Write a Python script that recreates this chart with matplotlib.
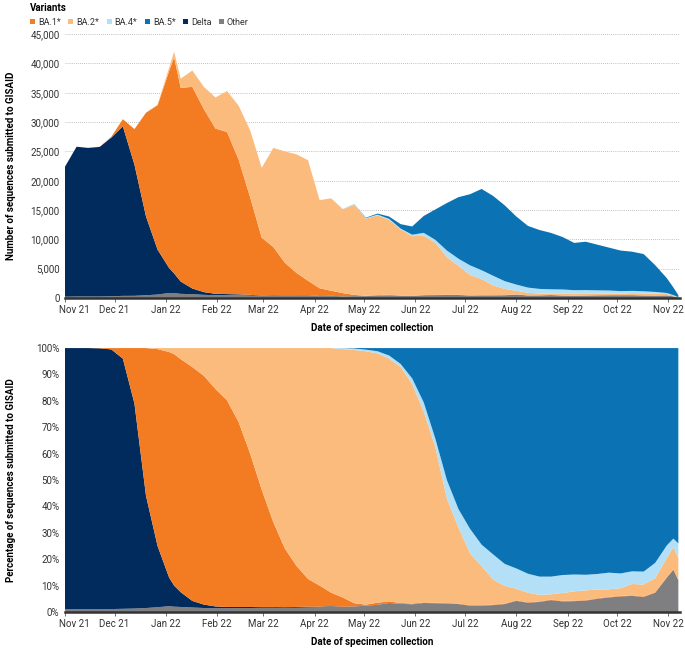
import matplotlib.pyplot as plt
import matplotlib.dates as mdates
from matplotlib.patches import Patch
from matplotlib.ticker import FuncFormatter
from matplotlib.transforms import ScaledTranslation
import numpy as np
import pandas as pd

plt.rcParams['font.family'] = ['Roboto', 'DejaVu Sans']

# weekly samples plus two extra days where the curves spike
weeks = pd.date_range("2021-11-01", "2022-11-07", freq="7D")
extra = pd.to_datetime(["2022-01-06", "2022-11-04"])
dates = weeks.append(extra).sort_values()

# total sequences submitted (top envelope)
total = [22400, 25800, 25600, 25800, 27500, 30500, 28800, 31600, 33000, 39300,
         42000,
         37400, 38800, 36000, 34200, 35300, 32800, 28600, 22200, 25600, 25000,
         24500, 23500, 16700, 17000, 15200, 16000, 13700, 14400, 13900, 12600,
         12200, 14000, 15100, 16200, 17200, 17700, 18600, 17400, 15800, 13900,
         12300, 11600, 11100, 10400, 9400, 9600, 9100, 8600, 8100, 7900,
         7500, 5600, 3400,
         1800, 500]

# share of each variant (%)
other = [1.0, 1.0, 1.0, 1.0, 1.1, 1.2, 1.3, 1.5, 1.8, 2.2,
         2.0,
         1.9, 1.7, 1.5, 1.4, 1.4, 1.5, 1.5, 1.6, 1.6, 1.5, 1.6, 1.7, 1.8, 2.0,
         1.9, 2.0, 2.3, 2.6, 3.3, 3.0, 2.8, 3.3, 3.2, 3.2, 3.0, 2.4, 2.4, 2.6,
         3.0, 4.2, 3.5, 3.8, 4.5, 4.0, 4.1, 4.3, 5.0, 5.5, 5.9, 6.1, 5.7, 7.3, 13.0,
         16.0, 12.0]
delta = [99.0, 99.0, 99.0, 98.9, 98.4, 94.8, 77.7, 42.5, 23.2, 10.8,
         8.0,
         5.6, 2.5, 1.3, 0.7, 0.5, 0.4, 0.4, 0.3, 0.3, 0.3, 0.3, 0.3, 0.2, 0.2,
         0.1, 0.1, 0.1, 0.1, 0.1, 0.1, 0.1, 0.1, 0.1, 0, 0, 0, 0, 0,
         0, 0, 0, 0, 0, 0, 0, 0, 0, 0, 0, 0, 0, 0, 0,
         0, 0]
ba1 = [0, 0, 0, 0.1, 0.5, 4.0, 21.0, 56.0, 74.6, 85.5,
       87.7,
       88.3, 88.6, 86.7, 82.4, 78.3, 70.1, 58.1, 44.4, 32.1, 22.2, 15.6, 10.5, 8.0, 5.1,
       3.5, 1.2, 0.4, 0.8, 0.6, 0.3, 0.3, 0.2, 0.2, 0.2, 0.2, 0.2, 0.2, 0.2,
       0.2, 0.2, 0.2, 0.2, 0.2, 0.2, 0.2, 0.2, 0.2, 0.2, 0.2, 0.2, 0.2, 0.2, 0.2,
       0.2, 0.2]
ba2 = [0, 0, 0, 0, 0, 0, 0, 0, 0.4, 1.5,
       2.3,
       4.2, 7.2, 10.5, 15.5, 19.8, 28.0, 40.0, 53.7, 66.0, 76.0, 82.5, 87.5, 90.0, 92.7,
       94.1, 96.0, 96.0, 94.5, 92.0, 89.5, 83.2, 72.3, 59.0, 39.6, 28.8, 19.6, 14.8, 9.5,
       6.7, 4.4, 3.6, 2.5, 2.0, 3.0, 3.5, 3.7, 3.3, 2.9, 2.9, 4.3, 4.5, 5.3, 7.2,
       8.4, 8.1]
ba4 = [0, 0, 0, 0, 0, 0, 0, 0, 0, 0,
       0,
       0, 0, 0, 0, 0, 0, 0, 0, 0, 0, 0, 0, 0, 0,
       0.4, 0.5, 0.6, 0.8, 1.2, 1.1, 2.1, 3.5, 3.2, 7.0, 7.0, 9.3, 8.1, 9.5,
       8.3, 7.7, 7.2, 6.9, 6.7, 6.8, 6.4, 5.9, 5.9, 6.3, 5.6, 4.8, 4.9, 5.8, 4.8,
       3.2, 5.7]
ba5 = [0, 0, 0, 0, 0, 0, 0, 0, 0, 0,
       0,
       0, 0, 0, 0, 0, 0, 0, 0, 0, 0, 0, 0, 0, 0,
       0, 0.2, 0.6, 1.2, 2.8, 6.0, 11.5, 20.6, 34.3, 50.0, 61.0, 68.5, 74.5, 78.2,
       81.8, 83.5, 85.5, 86.6, 86.6, 86.0, 85.8, 85.9, 85.6, 85.1, 85.4, 84.6, 84.7, 81.4, 74.8,
       72.2, 74.0]

names = ["Other", "Delta", "BA.1*", "BA.2*", "BA.4*", "BA.5*"]
colors = ["#7f7f81", "#022b5d", "#f37b21", "#fbbb7d", "#b3e0f6", "#0b73b3"]

shares = np.array([other, delta, ba1, ba2, ba4, ba5], dtype=float)
frac = shares / shares.sum(axis=0)
counts = frac * np.array(total, dtype=float)
pct = frac * 100

fig = plt.figure(figsize=(6.85, 6.5), dpi=100)
ax1 = fig.add_axes([0.0949, 0.5415, 0.8978, 0.406])
ax2 = fig.add_axes([0.0949, 0.0585, 0.8978, 0.406])

ax1.stackplot(dates, counts, colors=colors, linewidth=0)
ax2.stackplot(dates, pct, colors=colors, linewidth=0)

xmin, xmax = pd.Timestamp("2021-11-01"), pd.Timestamp("2022-11-08")
shift = ScaledTranslation(9 / 100, 0, fig.dpi_scale_trans)
for ax in (ax1, ax2):
    ax.set_xlim(xmin, xmax)
    ax.xaxis.set_major_locator(mdates.MonthLocator())
    ax.xaxis.set_major_formatter(mdates.DateFormatter("%b %y"))
    for s in ("top", "right", "left"):
        ax.spines[s].set_visible(False)
    ax.spines["bottom"].set_color("#333333")
    ax.spines["bottom"].set_linewidth(1.8)
    ax.tick_params(axis="x", length=3, width=0.6, color="#555555",
                   labelsize=7, labelcolor="#333333", pad=2)
    ax.tick_params(axis="y", length=0, labelsize=7, labelcolor="#333333", pad=4)
    ax.set_xlabel("Date of specimen collection", fontsize=7, fontweight="bold")
    ax.xaxis.set_label_coords(0.5, -0.095)
    # first label sits a little to the right of its tick
    first = ax.get_xticklabels()[0]
    first.set_transform(first.get_transform() + shift)

ax1.set_ylim(0, 45000)
ax1.set_yticks(np.arange(0, 45001, 5000))
ax1.yaxis.set_major_formatter(FuncFormatter(lambda v, p: f"{int(v):,}"))
ax1.yaxis.grid(True, linestyle=(0, (1, 1.5)), color="#aaaaaa", linewidth=0.6)
ax1.set_axisbelow(True)
ax1.set_ylabel("Number of sequences submitted to GISAID", fontsize=7, fontweight="bold")
ax1.yaxis.set_label_coords(-0.08, 0.5)

ax2.set_ylim(0, 100)
ax2.set_yticks(np.arange(0, 101, 10))
ax2.yaxis.set_major_formatter(FuncFormatter(lambda v, p: f"{int(v)}%"))
ax2.set_ylabel("Percentage of sequences submitted to GISAID", fontsize=7, fontweight="bold")
ax2.yaxis.set_label_coords(-0.08, 0.5)

order = [2, 3, 4, 5, 1, 0]
handles = [Patch(facecolor=colors[i], edgecolor="none") for i in order]
labels = [names[i] for i in order]
fig.legend(handles, labels, loc="upper left", bbox_to_anchor=(0.035, 1.005), ncol=6,
           frameon=False, fontsize=6.5, title="Variants",
           title_fontproperties={"weight": "bold", "size": 7}, alignment="left",
           handlelength=0.55, handleheight=0.55, handletextpad=0.35,
           columnspacing=0.8, borderpad=0.2, labelcolor="#333333")

fig.savefig("out.png", dpi=100)
